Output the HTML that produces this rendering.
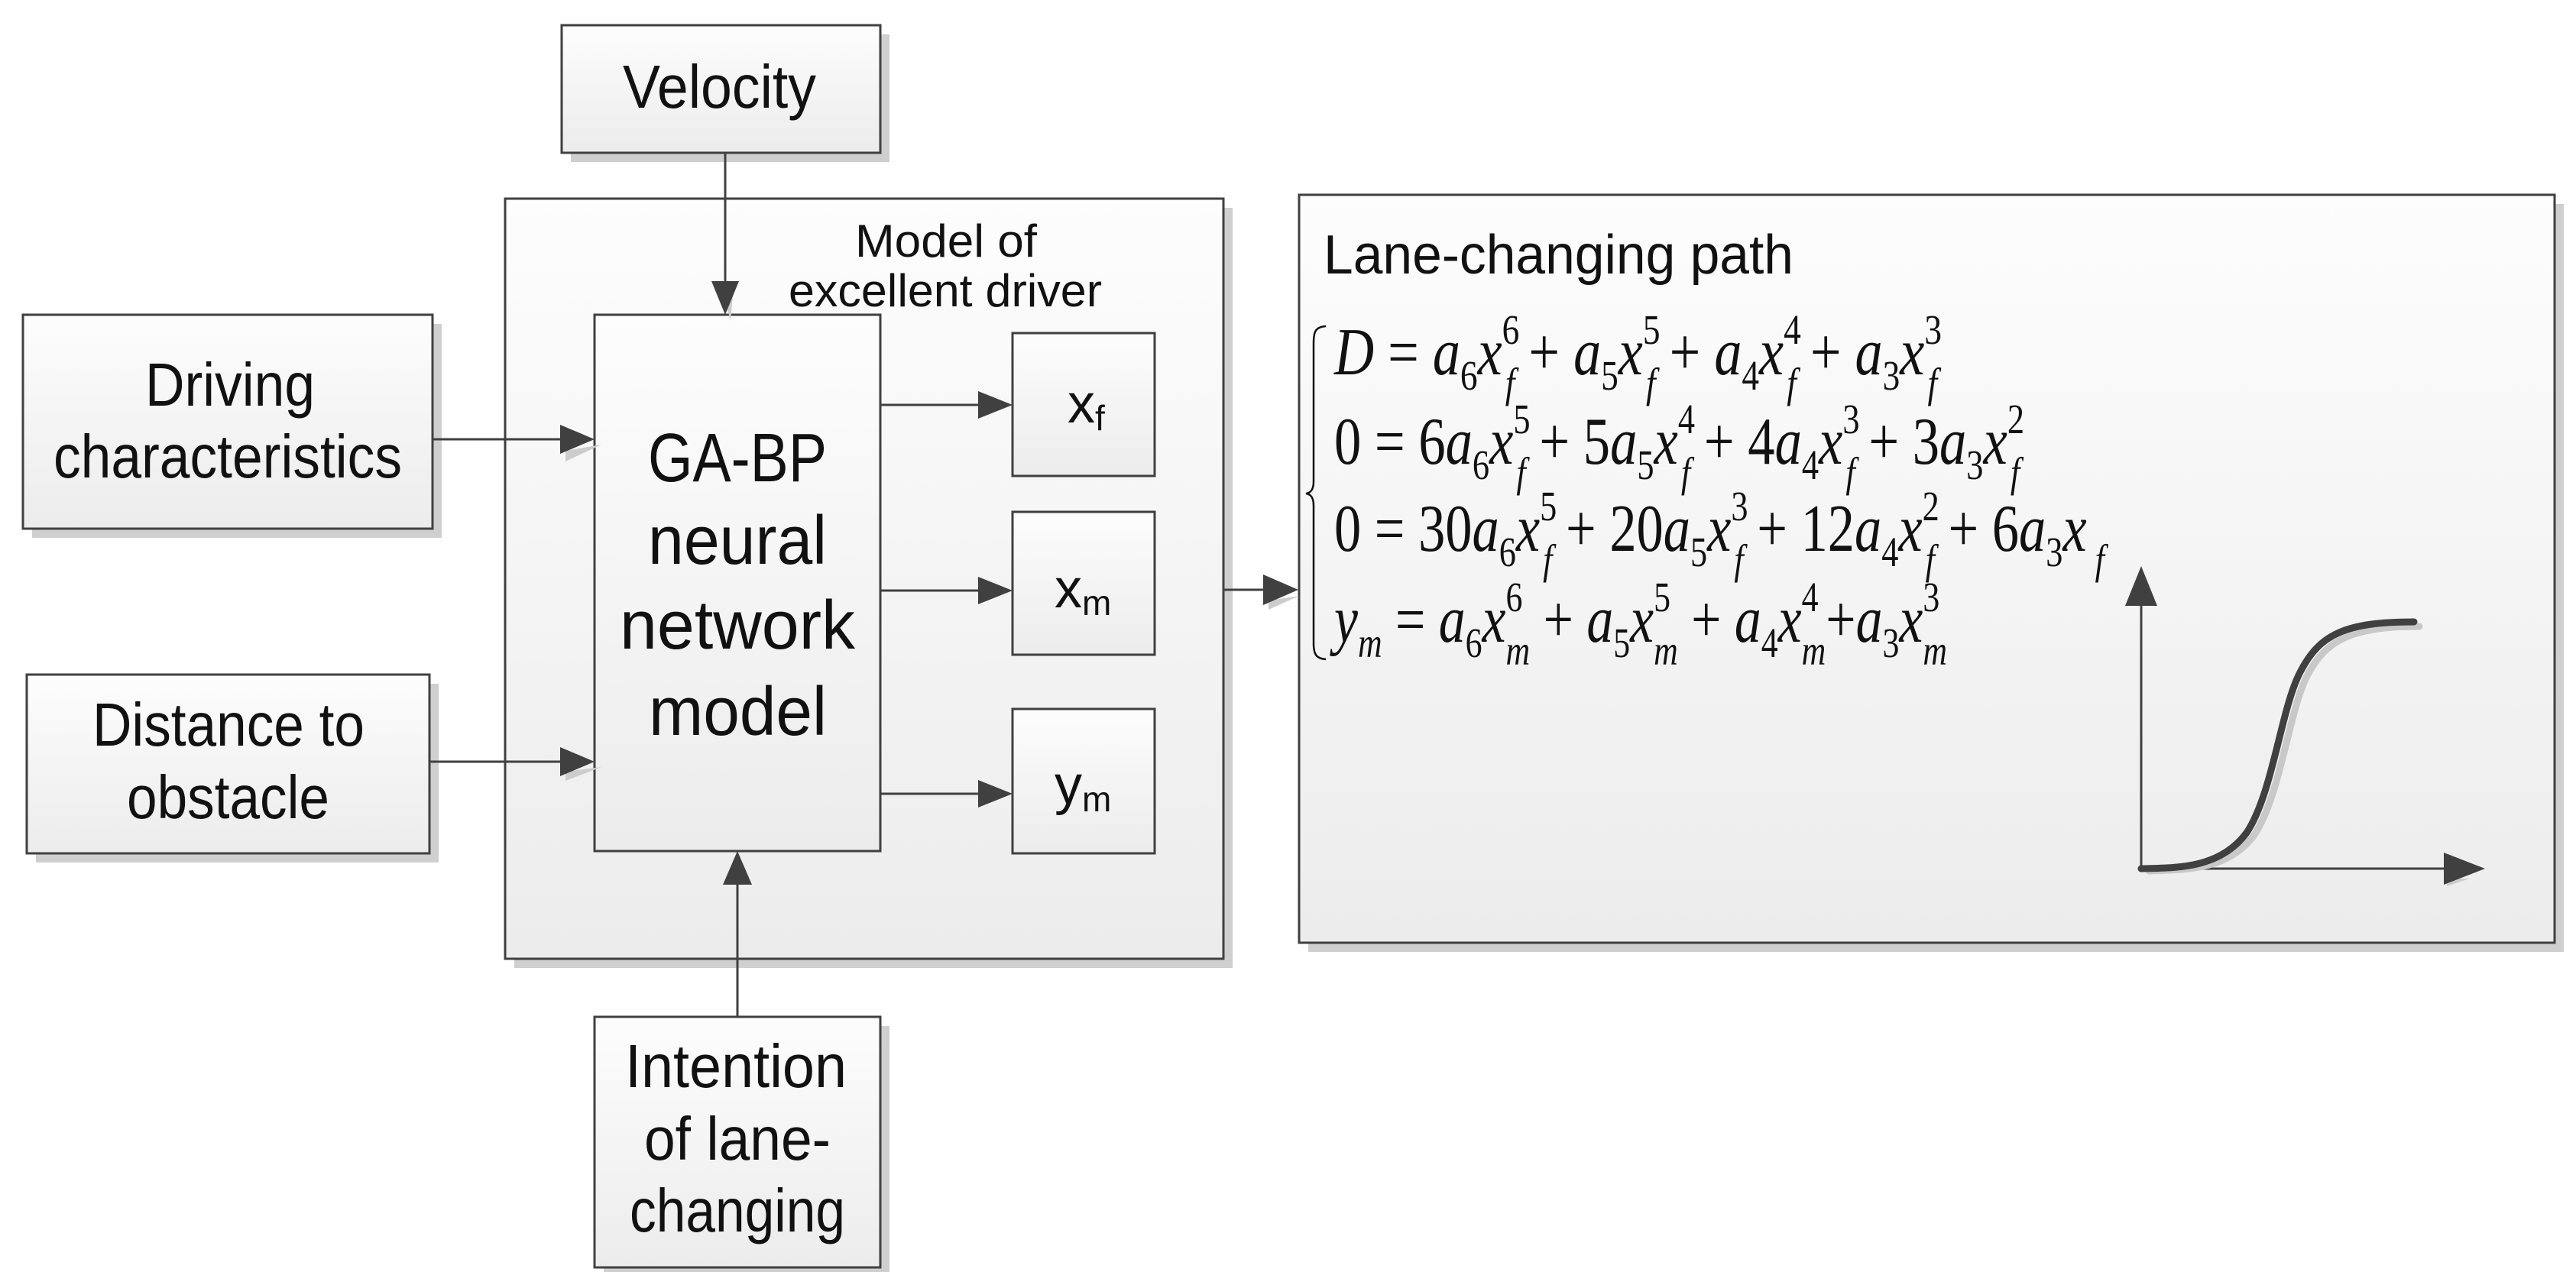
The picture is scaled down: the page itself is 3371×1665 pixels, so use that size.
<!DOCTYPE html>
<html><head><meta charset="utf-8"><style>
html,body{margin:0;padding:0;background:#fff;width:3371px;height:1665px;overflow:hidden}
svg{display:block}
.t{font-family:"Liberation Sans",sans-serif;fill:#111}
.e{font-family:"Liberation Serif",serif;fill:#111}
</style></head><body>
<svg width="3371" height="1665" viewBox="0 0 3371 1665" xmlns="http://www.w3.org/2000/svg">
<defs>
<linearGradient id="g" x1="0" y1="0" x2="0" y2="1"><stop offset="0" stop-color="#fdfdfd"/><stop offset="1" stop-color="#ececec"/></linearGradient>
</defs>
<g fill="#cfcfcf">
<rect x="673" y="272" width="940" height="995"/>
<rect x="1712" y="267" width="1643" height="979"/>
<rect x="747" y="45" width="417" height="167"/>
<rect x="42" y="424" width="536" height="280"/>
<rect x="47" y="895" width="527" height="234"/>
<rect x="790" y="1343" width="374" height="328"/>
<rect x="790" y="424" width="374" height="702"/>
<rect x="1335" y="446" width="186" height="187"/>
<rect x="1335" y="680" width="186" height="187"/>
<rect x="1335" y="938" width="186" height="189"/>
</g>
<g stroke="#404040" stroke-width="3" fill="url(#g)">
<rect x="661" y="260" width="940" height="995"/>
<rect x="1700" y="255" width="1643" height="979"/>
<rect x="735" y="33" width="417" height="167"/>
<rect x="30" y="412" width="536" height="280"/>
<rect x="35" y="883" width="527" height="234"/>
<rect x="778" y="1331" width="374" height="328"/>
<rect x="778" y="412" width="374" height="702"/>
<rect x="1325" y="436" width="186" height="187"/>
<rect x="1325" y="670" width="186" height="187"/>
<rect x="1325" y="928" width="186" height="189"/>
</g>
<g stroke="#404040" stroke-width="3" fill="none">
<line x1="949" y1="200" x2="949" y2="370"/>
<line x1="566" y1="575" x2="735" y2="575"/>
<line x1="562" y1="997" x2="735" y2="997"/>
<line x1="965" y1="1331" x2="965" y2="1158"/>
<line x1="1152" y1="530" x2="1280" y2="530"/>
<line x1="1152" y1="773" x2="1280" y2="773"/>
<line x1="1152" y1="1039" x2="1280" y2="1039"/>
<line x1="1601" y1="772" x2="1655" y2="772"/>
<line x1="2802" y1="790" x2="2802" y2="1137"/>
<line x1="2802" y1="1137" x2="3200" y2="1137"/>
</g>
<g fill="#cccccc">
<polygon points="960,375 944,375 956,420"/>
<polygon points="740,590 787,582 740,604"/>
<polygon points="740,1010 787,1004 740,1022"/>
<polygon points="1660,786 1700,780 1660,798"/>
<polygon points="3202,1150 3232,1150 3202,1160"/>
</g>
<g fill="#404040">
<polygon points="931,368 967,368 949,412"/>
<polygon points="733,556 733,594 778,575"/>
<polygon points="733,978 733,1016 778,997"/>
<polygon points="946,1158 984,1158 965,1114"/>
<polygon points="1280,512 1280,548 1325,530"/>
<polygon points="1280,755 1280,791 1325,773"/>
<polygon points="1280,1021 1280,1057 1325,1039"/>
<polygon points="1653,752 1653,792 1699,772"/>
<polygon points="2781,793 2823,793 2802,741"/>
<polygon points="3198,1116 3198,1158 3252,1137"/>
</g>
<path d="M2812,1140 C2860,1138 2915,1140 2950,1093 C2985,1040 2995,930 3020,883 C3045,836 3080,820 3166,820" stroke="#c8c8c8" stroke-width="9" fill="none" stroke-linecap="round"/>
<path d="M2802,1137 C2850,1136 2905,1137 2940,1090 C2975,1037 2985,925 3011,878 C3036,830 3070,814 3159,814" stroke="#404040" stroke-width="9" fill="none" stroke-linecap="round"/>
<g class="t" font-size="80">
<text x="815" y="141" textLength="253" lengthAdjust="spacingAndGlyphs">Velocity</text>
<text x="190" y="531" textLength="222" lengthAdjust="spacingAndGlyphs">Driving</text>
<text x="70" y="625" textLength="456" lengthAdjust="spacingAndGlyphs">characteristics</text>
<text x="121" y="976" textLength="356" lengthAdjust="spacingAndGlyphs">Distance to</text>
<text x="166" y="1071" textLength="265" lengthAdjust="spacingAndGlyphs">obstacle</text>
<text x="818" y="1423" textLength="290" lengthAdjust="spacingAndGlyphs">Intention</text>
<text x="843" y="1518" textLength="244" lengthAdjust="spacingAndGlyphs">of lane-</text>
<text x="824" y="1612" textLength="282" lengthAdjust="spacingAndGlyphs">changing</text>
</g>
<g class="t" font-size="90">
<text x="848" y="630" textLength="234" lengthAdjust="spacingAndGlyphs">GA-BP</text>
<text x="848" y="738" textLength="234" lengthAdjust="spacingAndGlyphs">neural</text>
<text x="811" y="849" textLength="308" lengthAdjust="spacingAndGlyphs">network</text>
<text x="849" y="962" textLength="233" lengthAdjust="spacingAndGlyphs">model</text>
</g>
<g class="t" font-size="60">
<text x="1119" y="336" textLength="238" lengthAdjust="spacingAndGlyphs">Model of</text>
<text x="1032" y="401" textLength="410" lengthAdjust="spacingAndGlyphs">excellent driver</text>
</g>
<g class="t" font-size="72">
<text x="1397" y="553">x<tspan font-size="46" dy="10">f</tspan></text>
<text x="1380" y="795">x<tspan font-size="46" dy="10">m</tspan></text>
<text x="1380" y="1052">y<tspan font-size="46" dy="10">m</tspan></text>
</g>
<text class="t" x="1732" y="358" font-size="72" textLength="615" lengthAdjust="spacingAndGlyphs">Lane-changing path</text>
<path d="M1735,427 C1720,428 1719,436 1719,450 L1719,630 C1719,640 1716,645 1709,646 C1716,647 1719,652 1719,662 L1719,842 C1719,856 1722,862 1735,863" stroke="#111" stroke-width="2.5" fill="none"/>
<g class="e" font-size="70">
<g transform="translate(1746,490) scale(1,1.25)">
<text x="0" y="0" textLength="795" lengthAdjust="spacingAndGlyphs"><tspan font-style="italic">D</tspan> = <tspan font-style="italic">a</tspan><tspan font-size="44" dy="16">6</tspan><tspan font-style="italic" dy="-16">x</tspan><tspan font-size="44" dy="-32">6</tspan><tspan font-size="44" font-style="italic" dx="-18" dy="56">f</tspan><tspan dy="-24"> + </tspan><tspan font-style="italic">a</tspan><tspan font-size="44" dy="16">5</tspan><tspan font-style="italic" dy="-16">x</tspan><tspan font-size="44" dy="-32">5</tspan><tspan font-size="44" font-style="italic" dx="-18" dy="56">f</tspan><tspan dy="-24"> + </tspan><tspan font-style="italic">a</tspan><tspan font-size="44" dy="16">4</tspan><tspan font-style="italic" dy="-16">x</tspan><tspan font-size="44" dy="-32">4</tspan><tspan font-size="44" font-style="italic" dx="-18" dy="56">f</tspan><tspan dy="-24"> + </tspan><tspan font-style="italic">a</tspan><tspan font-size="44" dy="16">3</tspan><tspan font-style="italic" dy="-16">x</tspan><tspan font-size="44" dy="-32">3</tspan><tspan font-size="44" font-style="italic" dx="-18" dy="56">f</tspan></text>
</g>
<g transform="translate(1746,607) scale(1,1.25)">
<text x="0" y="0" textLength="903" lengthAdjust="spacingAndGlyphs">0 = 6<tspan font-style="italic">a</tspan><tspan font-size="44" dy="16">6</tspan><tspan font-style="italic" dy="-16">x</tspan><tspan font-size="44" dy="-32">5</tspan><tspan font-size="44" font-style="italic" dx="-18" dy="56">f</tspan><tspan dy="-24"> + 5</tspan><tspan font-style="italic">a</tspan><tspan font-size="44" dy="16">5</tspan><tspan font-style="italic" dy="-16">x</tspan><tspan font-size="44" dy="-32">4</tspan><tspan font-size="44" font-style="italic" dx="-18" dy="56">f</tspan><tspan dy="-24"> + 4</tspan><tspan font-style="italic">a</tspan><tspan font-size="44" dy="16">4</tspan><tspan font-style="italic" dy="-16">x</tspan><tspan font-size="44" dy="-32">3</tspan><tspan font-size="44" font-style="italic" dx="-18" dy="56">f</tspan><tspan dy="-24"> + 3</tspan><tspan font-style="italic">a</tspan><tspan font-size="44" dy="16">3</tspan><tspan font-style="italic" dy="-16">x</tspan><tspan font-size="44" dy="-32">2</tspan><tspan font-size="44" font-style="italic" dx="-18" dy="56">f</tspan></text>
</g>
<g transform="translate(1746,721) scale(1,1.25)">
<text x="0" y="0" textLength="1008" lengthAdjust="spacingAndGlyphs">0 = 30<tspan font-style="italic">a</tspan><tspan font-size="44" dy="16">6</tspan><tspan font-style="italic" dy="-16">x</tspan><tspan font-size="44" dy="-32">5</tspan><tspan font-size="44" font-style="italic" dx="-18" dy="56">f</tspan><tspan dy="-24"> + 20</tspan><tspan font-style="italic">a</tspan><tspan font-size="44" dy="16">5</tspan><tspan font-style="italic" dy="-16">x</tspan><tspan font-size="44" dy="-32">3</tspan><tspan font-size="44" font-style="italic" dx="-18" dy="56">f</tspan><tspan dy="-24"> + 12</tspan><tspan font-style="italic">a</tspan><tspan font-size="44" dy="16">4</tspan><tspan font-style="italic" dy="-16">x</tspan><tspan font-size="44" dy="-32">2</tspan><tspan font-size="44" font-style="italic" dx="-18" dy="56">f</tspan><tspan dy="-24"> + 6</tspan><tspan font-style="italic">a</tspan><tspan font-size="44" dy="16">3</tspan><tspan font-style="italic" dy="-16">x</tspan><tspan font-size="44" font-style="italic" dy="24"> f</tspan></text>
</g>
<g transform="translate(1746,840) scale(1,1.25)">
<text x="0" y="0" textLength="802" lengthAdjust="spacingAndGlyphs"><tspan font-style="italic">y</tspan><tspan font-size="44" font-style="italic" dy="16">m</tspan><tspan dy="-16"> = </tspan><tspan font-style="italic">a</tspan><tspan font-size="44" dy="16">6</tspan><tspan font-style="italic" dy="-16">x</tspan><tspan font-size="44" dy="-32">6</tspan><tspan font-size="44" font-style="italic" dx="-22" dy="56">m</tspan><tspan dy="-24"> + </tspan><tspan font-style="italic">a</tspan><tspan font-size="44" dy="16">5</tspan><tspan font-style="italic" dy="-16">x</tspan><tspan font-size="44" dy="-32">5</tspan><tspan font-size="44" font-style="italic" dx="-22" dy="56">m</tspan><tspan dy="-24"> + </tspan><tspan font-style="italic">a</tspan><tspan font-size="44" dy="16">4</tspan><tspan font-style="italic" dy="-16">x</tspan><tspan font-size="44" dy="-32">4</tspan><tspan font-size="44" font-style="italic" dx="-22" dy="56">m</tspan><tspan dy="-24">+</tspan><tspan font-style="italic">a</tspan><tspan font-size="44" dy="16">3</tspan><tspan font-style="italic" dy="-16">x</tspan><tspan font-size="44" dy="-32">3</tspan><tspan font-size="44" font-style="italic" dx="-22" dy="56">m</tspan></text>
</g>
</g>
</svg>
</body></html>
